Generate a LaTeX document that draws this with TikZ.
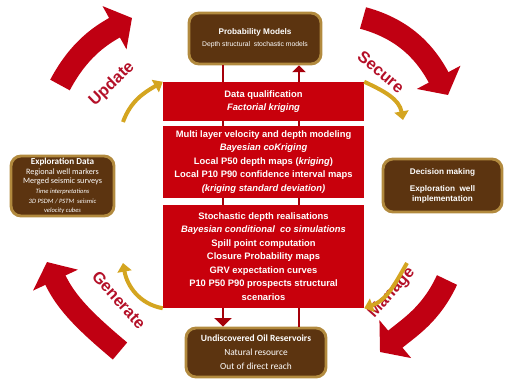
\documentclass[tikz,border=0pt]{standalone}
\usepackage{fontspec}
\setmainfont{Liberation Sans}
\newfontfamily\calibri{Carlito}
\usetikzlibrary{arrows.meta}
\definecolor{boxred}{RGB}{200,0,12}
\definecolor{linkred}{RGB}{165,0,10}
\definecolor{brownfill}{RGB}{92,52,16}
\definecolor{browndraw}{RGB}{178,138,62}
\definecolor{goldline}{RGB}{212,165,32}
\definecolor{bigred}{RGB}{192,0,18}
\definecolor{labelred}{RGB}{180,16,40}
\tikzstyle{redbox} = [rectangle, fill=boxred, text=white, align=center, minimum width=6.03cm, inner sep=0pt, font=\bfseries\fontsize{8}{11.5}\selectfont]
\tikzstyle{brownbox} = [rectangle, rounded corners=0.3cm, fill=brownfill, draw=browndraw, line width=2.5pt, text=white, align=center, inner sep=0pt]
\tikzstyle{link} = [draw=linkred, line width=1pt]
\tikzstyle{thicklink} = [draw=linkred, line width=2pt, -{Triangle[length=0.2cm, width=0.4cm]}]
\tikzstyle{bigarrow} = [draw=bigred, line width=19pt, -{Triangle[length=0.6cm, width=1.45cm]}]
\tikzstyle{goldarrow} = [draw=goldline, line width=3.4pt, -{Triangle[length=0.26cm, width=0.42cm]}]
\tikzstyle{cyclelabel} = [text=labelred, font=\bfseries\fontsize{14}{16}\selectfont]
\begin{document}
\begin{tikzpicture}[x=0.03cm, y=0.03cm]
\useasboundingbox (0,0) rectangle (510,380);
% centre column
\node (prob) [brownbox, minimum width=3.96cm, minimum height=1.53cm,
  font=\fontsize{5.8}{10}\selectfont] at (255,341.5)
  {{\bfseries\fontsize{7}{9}\selectfont Probability Models}\\
   Depth structural\ \ stochastic models};
\node (dq) [redbox, minimum height=1.17cm] at (263.5,278.5)
  {Data qualification\\ \textit{Factorial\ kriging}};
\node (velo) [redbox, minimum height=2.16cm] at (263.5,218)
  {Multi layer velocity and depth modeling\\
   \textit{Bayesian coKriging}\\
   Local P50 depth maps (\textit{kriging})\\
   Local P10 P90 confidence interval maps\\
   \textit{(kriging standard deviation)}};
\node (stoch) [redbox, minimum height=3.09cm] at (263.5,123.5)
  {Stochastic depth realisations\\
   \textit{Bayesian conditional\ \ co simulations}\\
   Spill point computation\\
   Closure Probability maps\\
   GRV expectation curves\\
   P10 P50 P90 prospects structural\\
   scenarios};
\node (oil) [brownbox, minimum width=4.2cm, minimum height=1.47cm,
  font=\calibri\fontsize{8}{12}\selectfont] at (256,27.5)
  {{\bfseries\fontsize{8.1}{12}\selectfont Undiscovered Oil Reservoirs}\\
   Natural resource\\ Out of direct reach};
% side boxes
\node (expl) [brownbox, minimum width=3.09cm, minimum height=1.8cm,
  font=\calibri\fontsize{7}{8.2}\selectfont] at (62.5,194)
  {{\bfseries\fontsize{7.8}{8.2}\selectfont Exploration\ Data}\\
   Regional well markers\\
   Merged seismic surveys\\
   {\itshape\fontsize{5.6}{7}\selectfont Time interpretations}\\
   {\itshape\fontsize{5.6}{7}\selectfont 3D PSDM / PSTM\ \ seismic}\\
   {\itshape\fontsize{5.6}{7}\selectfont velocity cubes}};
\node (dec) [brownbox, minimum width=3.57cm, minimum height=1.59cm,
  font=\bfseries\fontsize{7}{8.5}\selectfont] at (442.5,194.5)
  {Decision making\\[6pt]
   Exploration\ \ well\\ implementation};
% connectors
\coordinate (cl) at (223,0);
\coordinate (cr) at (299,0);
\draw [link, line width=2pt] (prob.south -| cl) -- (dq.north -| cl);
\draw [thicklink] (dq.north -| cr) -- (prob.south -| cr);
\draw [link] (dq.south -| cl) -- (velo.north -| cl);
\draw [link] (dq.south -| cr) -- (velo.north -| cr);
\draw [link] (velo.south -| cl) -- (stoch.north -| cl);
\draw [link] (velo.south -| cr) -- (stoch.north -| cr);
\draw [thicklink, -{Triangle[length=0.25cm, width=0.5cm]}] (stoch.south -| cl) -- (oil.north -| cl);
\draw [link, line width=2pt] (stoch.south -| cr) -- (oil.north -| cr);
% cycle arrows
\coordinate (upd1) at (60,295);   \coordinate (upd2) at (132,362);
\coordinate (sec1) at (363,362);  \coordinate (sec2) at (448,285);
\coordinate (man1) at (447,100);  \coordinate (man2) at (380,28);
\coordinate (gen1) at (120,29);   \coordinate (gen2) at (47,118);
\draw [bigarrow] (upd1) to[out=62, in=209] (upd2);
\draw [bigarrow] (sec1) to[out=-15, in=118] (sec2);
\draw [bigarrow] (man1) to[out=-115, in=40] (man2);
\draw [bigarrow] (gen1) to[out=140, in=-65] (gen2);
\node [cyclelabel, rotate=44] at (112,296) {Update};
\node [cyclelabel, rotate=-40] at (381,308) {Secure};
\node [cyclelabel, rotate=48] at (392,87) {Manage};
\node [cyclelabel, rotate=-48] at (119,80) {Generate};
% gold arrows at the corners
\draw [goldarrow] (123,258) to[out=70, in=210] (dq.north west);
\draw [goldarrow] (dq.north east) to[out=-25, in=100] (403,260);
\draw [goldarrow] (407,117) to[out=-120, in=20] (stoch.south east);
\draw [goldarrow] (stoch.south west) to[out=170, in=-80] (123,117);
\end{tikzpicture}
\end{document}
